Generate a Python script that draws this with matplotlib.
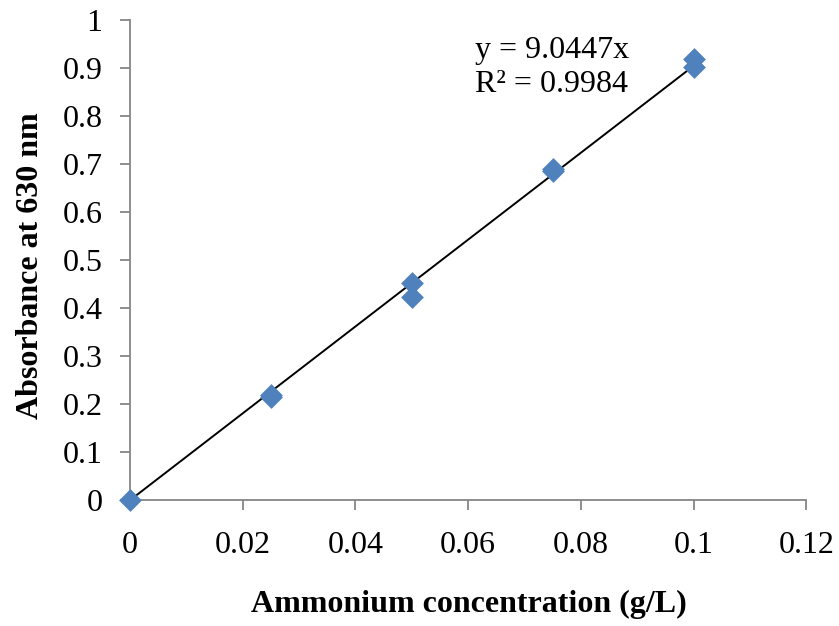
import matplotlib
matplotlib.use("Agg")
import matplotlib.pyplot as plt
import numpy as np

conc = [0, 0.025, 0.025, 0.05, 0.05, 0.075, 0.075, 0.1, 0.1]
absorb = [0, 0.215, 0.22, 0.453, 0.424, 0.685, 0.69, 0.918, 0.903]
slope = 9.0447
eq_line1 = "y = 9.0447x"
eq_line2 = "R² = 0.9984"
x_ticks = [0, 0.02, 0.04, 0.06, 0.08, 0.1, 0.12]
x_ticklabels = ['0', '0.02', '0.04', '0.06', '0.08', '0.1', '0.12']
y_ticks = [0, 0.1, 0.2, 0.3, 0.4, 0.5, 0.6, 0.7, 0.8, 0.9, 1]
y_ticklabels = ['0', '0.1', '0.2', '0.3', '0.4', '0.5', '0.6', '0.7', '0.8', '0.9', '1']

plt.rcParams['font.family'] = ['Liberation Serif', 'DejaVu Serif']

fig = plt.figure(figsize=(8.39, 6.26), dpi=100)
ax = fig.add_axes([0.155, 0.201, 0.806, 0.767])

fit_x = np.array([0, 0.1])
ax.plot(fit_x, slope * fit_x, color='black', lw=1.4, zorder=2)
ax.scatter(conc, absorb, marker='D', s=135, color='#4F81BD', zorder=3, linewidths=0,
           clip_on=False)

ax.set_xlim(0, 0.12)
ax.set_ylim(0, 1)
ax.set_xticks(x_ticks)
ax.set_xticklabels(x_ticklabels)
ax.set_yticks(y_ticks)
ax.set_yticklabels(y_ticklabels)

for s in ['top', 'right']:
    ax.spines[s].set_visible(False)
for s in ['left', 'bottom']:
    ax.spines[s].set_color('#868686')
    ax.spines[s].set_linewidth(1.3)
ax.tick_params(axis='both', direction='out', length=7, width=1.3, color='#868686',
               labelsize=23)
ax.tick_params(axis='y', pad=13)
ax.tick_params(axis='x', pad=15)

fig.text(469 / 839, 1 - 604 / 626, 'Ammonium concentration (g/L)', fontsize=23,
         fontweight='bold', ha='center', va='center')
fig.text(31 / 839, 1 - 266 / 626, 'Absorbance at 630 nm', fontsize=23,
         fontweight='bold', ha='center', va='center', rotation=90)

ax.text(0.0612, 0.937, eq_line1, fontsize=23, ha='left', va='center')
ax.text(0.0612, 0.866, eq_line2, fontsize=23, ha='left', va='center')

fig.savefig('out.png', dpi=100)
